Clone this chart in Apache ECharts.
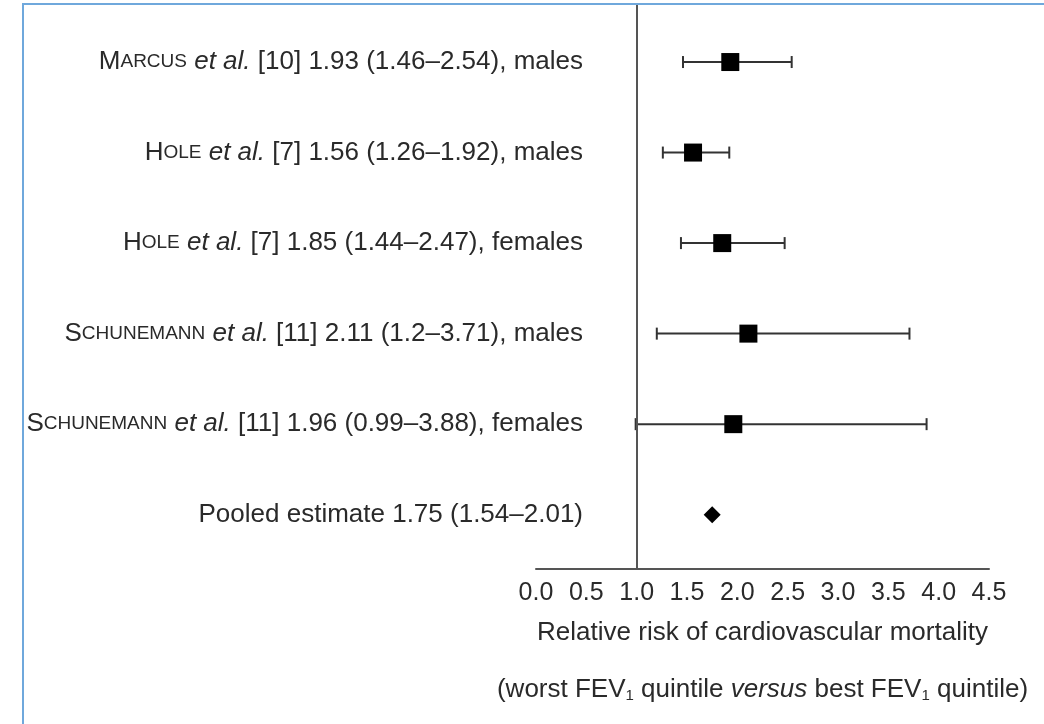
<!DOCTYPE html>
<html>
<head>
<meta charset="utf-8">
<script src="https://cdn.jsdelivr.net/npm/echarts@6/dist/echarts.min.js"></script>
<style>
  html, body { margin: 0; padding: 0; background: #fff; }
  #forest { width: 1044px; height: 724px; }
</style>
</head>
<body>
<div id="forest"></div>
<script>
// one row per study, top to bottom; the last row is the pooled estimate
var authors = ['Marcus', 'Hole', 'Hole', 'Schunemann', 'Schunemann'];
var refs = [10, 7, 7, 11, 11];
var groups = ['males', 'males', 'females', 'males', 'females'];
var estimates = [1.93, 1.56, 1.85, 2.11, 1.96];
var lows = [1.46, 1.26, 1.44, 1.2, 0.99];
var highs = [2.54, 1.92, 2.47, 3.71, 3.88];
var pooled = [1.75, 1.54, 2.01];
var xTicks = [0, 0.5, 1, 1.5, 2, 2.5, 3, 3.5, 4, 4.5];

function smallCaps(name) {
    return '{cap|' + name.charAt(0).toUpperCase() + '}{sc|' + name.slice(1).toUpperCase() + '}';
}

var rowLabels = authors.map(function (a, i) {
    return smallCaps(a) + ' {it|et al.} [' + refs[i] + '] ' + estimates[i] +
        ' (' + lows[i] + '\u2013' + highs[i] + '), ' + groups[i];
});
rowLabels.push('Pooled estimate ' + pooled[0] + ' (' + pooled[1] + '\u2013' + pooled[2] + ')');

var rows = rowLabels.map(function (l, i) { return i; });

var barData = estimates.map(function (e, i) { return [i, lows[i], highs[i]]; });
var pointData = estimates.map(function (e, i) { return [e, i]; });

var txt = '#2a2a2a';
var font = 'Liberation Sans';

option = {
    backgroundColor: '#fff',
    animation: false,
    textStyle: { fontFamily: font },
    graphic: [{
        type: 'rect',
        shape: { x: 23, y: 4, width: 1100, height: 800 },
        style: { fill: 'none', stroke: '#6fa8dc', lineWidth: 2 },
        silent: true
    }],
    grid: {
        left: 536,
        right: 55,
        top: 5,
        bottom: 155
    },
    xAxis: {
        type: 'value',
        min: 0,
        max: 4.5,
        interval: 0.5,
        splitLine: { show: false },
        axisTick: { show: false },
        axisLine: { show: true, onZero: false, lineStyle: { color: '#555', width: 2 } },
        axisLabel: {
            margin: 12,
            color: txt,
            fontSize: 25,
            fontFamily: font,
            customValues: xTicks,
            formatter: function (v) { return v.toFixed(1); }
        },
        name: '{a|Relative risk of cardiovascular mortality}\n' +
              '{a|(worst FEV}{sub|1}{a| quintile }{it|versus}{a| best FEV}{sub|1}{a| quintile)}',
        nameLocation: 'middle',
        nameGap: 35,
        nameTextStyle: {
            rich: {
                a: { fontSize: 26, color: txt, fontFamily: font, lineHeight: 57 },
                it: { fontSize: 26, color: txt, fontFamily: font, fontStyle: 'italic', lineHeight: 57 },
                sub: { fontSize: 15, color: txt, fontFamily: font, lineHeight: 57, verticalAlign: 'bottom', padding: [0, 0, 15, 0] }
            }
        }
    },
    yAxis: {
        type: 'value',
        inverse: true,
        min: -0.63,
        max: 5.6,
        splitLine: { show: false },
        axisLine: { show: false },
        axisTick: { show: false },
        axisLabel: {
            customValues: rows,
            margin: -47,
            formatter: function (v) { return rowLabels[v]; },
            rich: {
                cap: { fontSize: 26, color: txt, fontFamily: font },
                sc: { fontSize: 19, color: txt, fontFamily: font },
                it: { fontSize: 26, color: txt, fontFamily: font, fontStyle: 'italic' }
            },
            fontSize: 26,
            color: txt,
            fontFamily: font
        }
    },
    series: [
        {
            name: 'CI',
            type: 'custom',
            data: barData,
            encode: { x: [1, 2], y: 0 },
            renderItem: function (params, api) {
                var row = api.value(0);
                var lo = api.coord([api.value(1), row]);
                var hi = api.coord([api.value(2), row]);
                var cap = 6;
                var st = { stroke: '#333', lineWidth: 2 };
                return {
                    type: 'group',
                    children: [
                        { type: 'line', shape: { x1: lo[0], y1: lo[1], x2: hi[0], y2: hi[1] }, style: st },
                        { type: 'line', shape: { x1: lo[0], y1: lo[1] - cap, x2: lo[0], y2: lo[1] + cap }, style: st },
                        { type: 'line', shape: { x1: hi[0], y1: hi[1] - cap, x2: hi[0], y2: hi[1] + cap }, style: st }
                    ]
                };
            },
            markLine: {
                silent: true,
                symbol: 'none',
                label: { show: false },
                lineStyle: { color: '#555', width: 2, type: 'solid' },
                data: [{ xAxis: 1 }]
            },
            z: 2
        },
        {
            name: 'RR',
            type: 'scatter',
            data: pointData,
            symbol: 'rect',
            symbolSize: 18,
            itemStyle: { color: '#000', opacity: 1 },
            z: 3
        },
        {
            name: 'Pooled',
            type: 'scatter',
            data: [[pooled[0], rows.length - 1]],
            symbol: 'diamond',
            symbolSize: 17,
            itemStyle: { color: '#000', opacity: 1 },
            z: 3
        }
    ]
};

var chart = echarts.init(document.getElementById('forest'));
chart.setOption(option);
</script>
</body>
</html>
